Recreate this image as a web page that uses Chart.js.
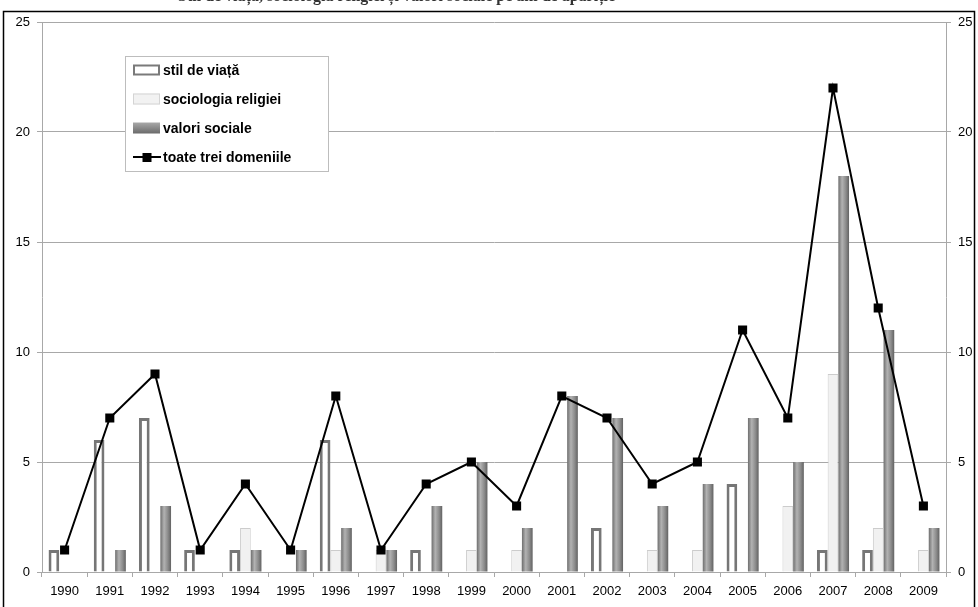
<!DOCTYPE html>
<html>
<head>
<meta charset="utf-8">
<script src="https://cdn.jsdelivr.net/npm/chart.js@4/dist/chart.umd.min.js"></script>
<style>
  body { margin: 0; background: #fff; }
  canvas { display: block; }
</style>
</head>
<body>
<canvas id="chart" width="978" height="607"></canvas>
<script>
// Data
const years = ['1990', '1991', '1992', '1993', '1994', '1995', '1996', '1997', '1998', '1999',
               '2000', '2001', '2002', '2003', '2004', '2005', '2006', '2007', '2008', '2009'];
const stilDeViata = [1, 6, 7, 1, 1, 0, 6, 0, 1, 0, 0, 0, 2, 0, 0, 4, 0, 1, 1, 0];
const sociologiaReligiei = [0, 0, 0, 0, 2, 0, 1, 1, 0, 1, 1, 0, 0, 1, 1, 0, 3, 9, 2, 1];
const valoriSociale = [0, 1, 3, 0, 1, 1, 2, 1, 3, 5, 2, 8, 7, 3, 4, 7, 5, 18, 11, 2];
const toateTrei = [1, 7, 9, 1, 4, 1, 8, 1, 4, 5, 3, 8, 7, 4, 5, 11, 7, 22, 12, 3];
const yTicks = [0, 5, 10, 15, 20, 25];

const titleText = 'Stil de viață, sociologia religiei și valori sociale pe ani de apariție';
const gridColor = '#a8a8a8';
const fontFamily = '"Liberation Sans", Arial, sans-serif';

// grey cylinder look for "valori sociale"
function cylinder(c, x0, x1) {
    const g = c.createLinearGradient(x0, 0, x1, 0);
    g.addColorStop(0, '#6e6e6e');
    g.addColorStop(0.35, '#b2b2b2');
    g.addColorStop(0.7, '#8c8c8c');
    g.addColorStop(1, '#626262');
    return g;
}

function valFill(ctx) {
    const el = ctx.chart.getDatasetMeta(ctx.datasetIndex).data[ctx.dataIndex];
    if (!el || !Number.isFinite(el.x) || !Number.isFinite(el.width)) return '#939393';
    return cylinder(ctx.chart.ctx, el.x - el.width / 2, el.x + el.width / 2);
}

// frame, clipped title and the legend box drawn inside the plot
const decorPlugin = {
    id: 'decor',
    beforeDraw(chart) {
        const c = chart.ctx;
        c.save();
        c.fillStyle = '#333';
        c.font = 'bold 16px "Liberation Serif", "Times New Roman", serif';
        c.textBaseline = 'alphabetic';
        c.fillText(titleText, 178, 1);
        c.restore();
    },
    afterDraw(chart) {
        const c = chart.ctx;
        c.save();
        // outer frame
        c.strokeStyle = '#000';
        c.lineWidth = 1.5;
        c.strokeRect(3.5, 11.5, 971, 700);

        // legend
        const lx = 125, ly = 56, lw = 203, lh = 115;
        c.fillStyle = '#fff';
        c.fillRect(lx, ly, lw, lh);
        c.strokeStyle = '#bdbdbd';
        c.lineWidth = 1;
        c.strokeRect(lx + 0.5, ly + 0.5, lw, lh);

        const labels = [chart.data.datasets[1].label, chart.data.datasets[2].label,
                        chart.data.datasets[3].label, chart.data.datasets[0].label];
        const rowY = [70, 99, 128, 157];
        const sx = 133, sw = 27, sh = 11;

        // stil de viata
        c.fillStyle = '#fff';
        c.fillRect(sx, rowY[0] - sh / 2, sw, sh);
        c.strokeStyle = '#7a7a7a';
        c.lineWidth = 2;
        c.strokeRect(sx + 1, rowY[0] - sh / 2 + 1, sw - 2, sh - 2);
        // sociologia religiei
        c.fillStyle = '#f2f2f2';
        c.fillRect(sx, rowY[1] - sh / 2, sw, sh);
        c.strokeStyle = '#d4d4d4';
        c.lineWidth = 1;
        c.strokeRect(sx + 0.5, rowY[1] - sh / 2 + 0.5, sw - 1, sh - 1);
        // valori sociale
        const vg = c.createLinearGradient(0, rowY[2] - sh / 2, 0, rowY[2] + sh / 2);
        vg.addColorStop(0, '#a9a9a9');
        vg.addColorStop(0.5, '#8a8a8a');
        vg.addColorStop(1, '#6a6a6a');
        c.fillStyle = vg;
        c.fillRect(sx, rowY[2] - sh / 2, sw, sh);
        // toate trei domeniile
        c.strokeStyle = '#000';
        c.lineWidth = 2;
        c.beginPath();
        c.moveTo(sx, rowY[3]);
        c.lineTo(sx + sw + 1, rowY[3]);
        c.stroke();
        c.fillStyle = '#000';
        c.fillRect(sx + sw / 2 - 4, rowY[3] - 4, 9, 9);

        c.fillStyle = '#000';
        c.font = 'bold 14px ' + fontFamily;
        c.textBaseline = 'middle';
        labels.forEach((t, i) => c.fillText(t, 163, rowY[i] + 1));
        c.restore();
    }
};

const tickFont = { family: fontFamily, size: 13 };

const chart = new Chart(document.getElementById('chart'), {
    data: {
        labels: years,
        datasets: [
            {
                type: 'line',
                label: 'toate trei domeniile',
                data: toateTrei,
                borderColor: '#000',
                borderWidth: 2,
                pointStyle: 'rect',
                pointRadius: 5,
                pointBackgroundColor: '#000',
                pointBorderColor: '#000',
                tension: 0,
                order: 0
            },
            {
                type: 'bar',
                label: 'stil de viață',
                data: stilDeViata,
                backgroundColor: '#fff',
                borderColor: '#767676',
                borderWidth: 3,
                order: 1
            },
            {
                type: 'bar',
                label: 'sociologia religiei',
                data: sociologiaReligiei,
                backgroundColor: '#f1f1f1',
                borderColor: '#cccccc',
                borderWidth: 1,
                order: 1
            },
            {
                type: 'bar',
                label: 'valori sociale',
                data: valoriSociale,
                backgroundColor: valFill,
                borderWidth: 0,
                order: 1
            }
        ]
    },
    options: {
        responsive: false,
        animation: false,
        layout: { padding: { top: 22, left: 0, right: 0, bottom: 0 } },
        datasets: {
            bar: { categoryPercentage: 0.71, barPercentage: 1 }
        },
        plugins: {
            legend: { display: false },
            tooltip: { enabled: false }
        },
        scales: {
            x: {
                grid: {
                    offset: true,
                    drawOnChartArea: false,
                    tickLength: 5,
                    color: gridColor
                },
                border: { color: gridColor },
                ticks: {
                    color: '#000',
                    font: tickFont,
                    padding: 7,
                    maxRotation: 0,
                    autoSkip: false
                },
                afterFit(scale) { scale.height = 35; }
            },
            y: {
                position: 'left',
                min: 0,
                max: 25,
                afterBuildTicks(scale) { scale.ticks = yTicks.map(v => ({ value: v })); },
                grid: { color: gridColor, tickLength: 5 },
                border: { color: gridColor },
                ticks: {
                    color: '#000',
                    font: tickFont,
                    padding: 7
                },
                afterFit(scale) { scale.width = 42; }
            },
            y2: {
                position: 'right',
                min: 0,
                max: 25,
                afterBuildTicks(scale) { scale.ticks = yTicks.map(v => ({ value: v })); },
                grid: { drawOnChartArea: false, color: gridColor, tickLength: 5 },
                border: { color: gridColor },
                ticks: {
                    color: '#000',
                    font: tickFont,
                    padding: 7
                },
                afterFit(scale) { scale.width = 32; }
            }
        }
    },
    plugins: [decorPlugin]
});

// second pass so the cylinder gradient knows where each bar sits
chart.update();
</script>
</body>
</html>
